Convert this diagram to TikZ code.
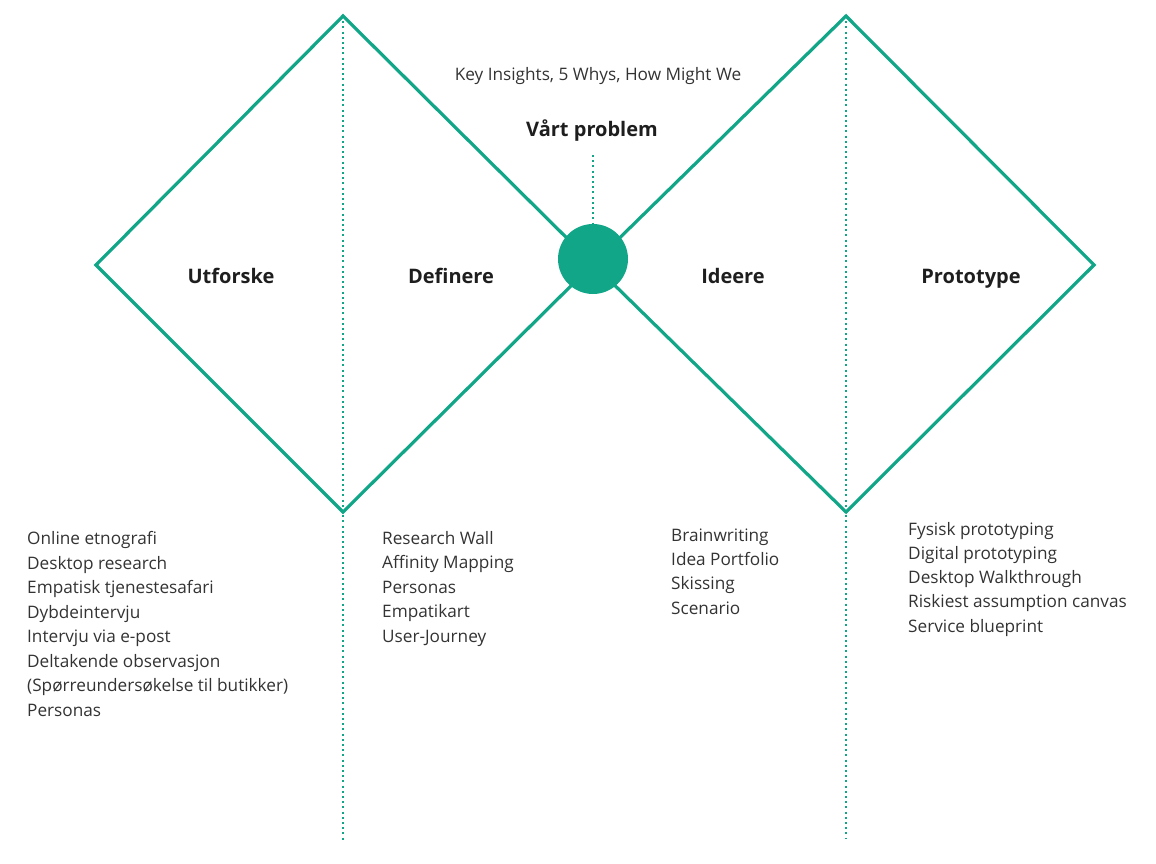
\documentclass[tikz,border=0pt]{standalone}
\usepackage{fontspec}
\setmainfont{Open Sans}
\definecolor{teal1}{RGB}{17,166,136}
\definecolor{txt}{RGB}{51,51,51}
\definecolor{head}{RGB}{30,30,30}
\begin{document}
\begin{tikzpicture}[x=1pt,y=-1pt,
  frame/.style={draw=teal1,line width=3.2pt,line join=miter},
  guide/.style={draw=teal1,line width=2pt,dash pattern=on 2pt off 3.2pt},
  phase/.style={font=\fontsize{20}{23}\selectfont\bfseries,text=head,inner sep=0pt,anchor=base},
  items/.style={font=\fontsize{17.2}{24.5}\selectfont,text=txt,inner sep=0pt,align=left,anchor=base west},
  note/.style={font=\fontsize{17.2}{20}\selectfont,text=txt,inner sep=0pt,anchor=base}]
\useasboundingbox (0,0) rectangle (1156,864);
% diamond corners
\coordinate (lt) at (343,16);
\coordinate (ll) at (96,265);
\coordinate (lb) at (343,512);
\coordinate (rt) at (846,16);
\coordinate (rr) at (1094,265);
\coordinate (rb) at (846,512);
\coordinate (mid) at (593,264);
\coordinate (lend) at (343,841);
\coordinate (rend) at (846,838);
% guides
\draw[guide] (lt) -- (lend);
\draw[guide] (rt) -- (rend);
% diamonds
\draw[frame] (mid) -- (lt) -- (ll) -- (lb) -- cycle;
\draw[frame] (mid) -- (rt) -- (rr) -- (rb) -- cycle;
% problem circle
\node[circle,fill=teal1,minimum size=70pt,inner sep=0pt] (prob) at (593,259) {};
\node[phase] (vp) at (592,137) {Vårt problem};
\coordinate (vpl) at (593,155);
\draw[guide] (vpl) -- (prob.north);
\node[note] (ki) at (598,81) {Key Insights, 5 Whys, How Might We};
% phase labels
\node[phase] (utf) at (231,283) {Utforske};
\node[phase] (def) at (451,283) {Definere};
\node[phase] (ide) at (733,283) {Ideere};
\node[phase] (pro) at (971,283) {Prototype};
% lists (anchored at the baseline of their last line)
\node[items] (l1) at (27,716) {Online etnografi\\Desktop research\\Empatisk tjenestesafari\\Dybdeintervju\\Intervju via e-post\\Deltakende observasjon\\(Spørreundersøkelse til butikker)\\Personas};
\node[items] (l2) at (382,642) {Research Wall\\Affinity Mapping\\Personas\\Empatikart\\User-Journey};
\node[items,font=\fontsize{17.2}{24.2}\selectfont] (l3) at (671,614) {Brainwriting\\Idea Portfolio\\Skissing\\Scenario};
\node[items,font=\fontsize{17.2}{24.2}\selectfont] (l4) at (908,632) {Fysisk prototyping\\Digital prototyping\\Desktop Walkthrough\\Riskiest assumption canvas\\Service blueprint};
\end{tikzpicture}
\end{document}
